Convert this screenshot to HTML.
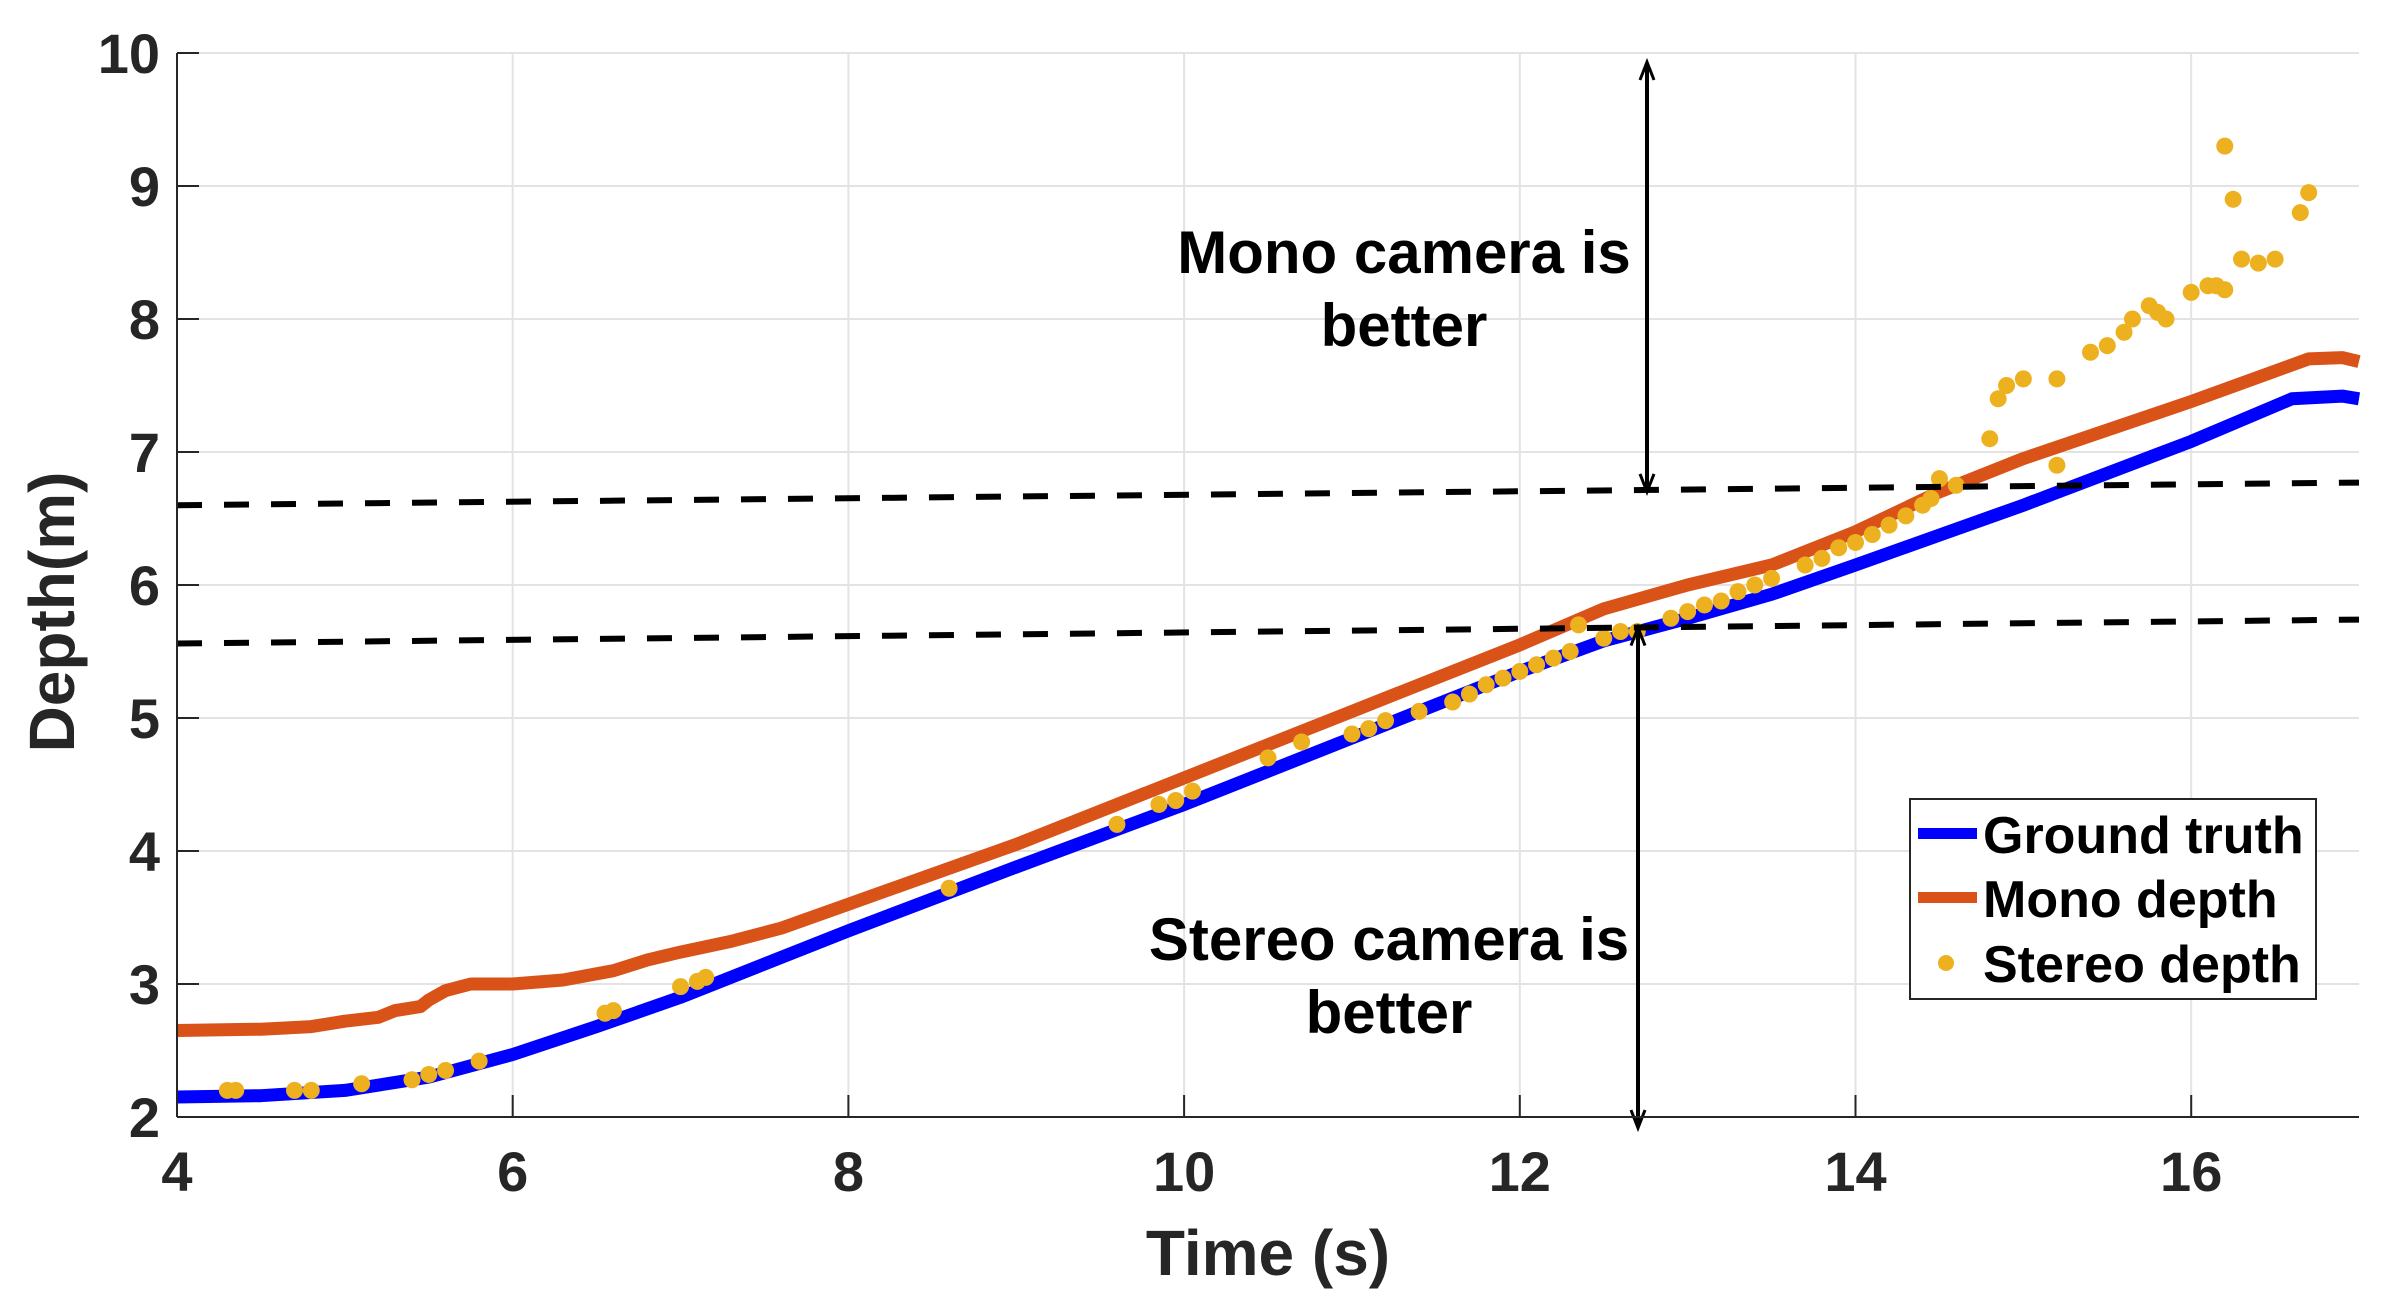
<!DOCTYPE html>
<html><head><meta charset="utf-8"><style>
html,body{margin:0;padding:0;background:#fff;}
svg{display:block;}
text{font-family:"Liberation Sans",sans-serif;font-weight:bold;}
</style></head><body>
<svg id="s" width="2402" height="1311" xmlns="http://www.w3.org/2000/svg">
<g id="grid" stroke="#e3e3e3" stroke-width="2"></g>
<g id="data"></g>
<line x1="177" y1="53" x2="177" y2="1117" stroke="#262626" stroke-width="2"/>
<line x1="177" y1="1117" x2="2359" y2="1117" stroke="#262626" stroke-width="2"/>
<g id="ticks" stroke="#262626" stroke-width="2"></g>
<g font-size="56" fill="#262626" text-anchor="end" id="ylab"></g>
<g font-size="56" fill="#262626" text-anchor="middle" id="xlab"></g>
<text x="1268" y="1275" font-size="64" fill="#262626" text-anchor="middle">Time (s)</text>
<text transform="translate(74,612) rotate(-90)" font-size="64" fill="#262626" text-anchor="middle">Depth(m)</text>
<text x="1404" y="273" font-size="60" fill="#000" text-anchor="middle">Mono camera is</text>
<text x="1404" y="346" font-size="60" fill="#000" text-anchor="middle">better</text>
<text x="1389" y="960" font-size="60" fill="#000" text-anchor="middle">Stereo camera is</text>
<text x="1389" y="1033" font-size="60" fill="#000" text-anchor="middle">better</text>
<rect x="1910" y="799" width="406" height="200" fill="#fff" stroke="#262626" stroke-width="2"/>
<rect x="1918" y="828" width="59" height="11" fill="#0000ff"/>
<rect x="1918" y="892" width="59" height="11" fill="#D95319"/>
<circle cx="1946" cy="963" r="8" fill="#EDB120"/>
<text x="1983" y="853" font-size="52" fill="#000">Ground truth</text>
<text x="1983" y="917" font-size="52" fill="#000">Mono depth</text>
<text x="1983" y="982" font-size="52" fill="#000">Stereo depth</text>
</svg>
<script>
var NS="http://www.w3.org/2000/svg";
function X(t){return 177+(t-4)*167.85;}
function Y(v){return 1117-(v-2)*133;}
function el(p,n,a){var e=document.createElementNS(NS,n);for(var k in a)e.setAttribute(k,a[k]);document.getElementById(p).appendChild(e);return e;}
for(var t=4;t<=16;t+=2){el('grid','line',{x1:X(t),y1:53,x2:X(t),y2:1117});el('ticks','line',{x1:X(t),y1:1117,x2:X(t),y2:1095});
 var tx=el('xlab','text',{x:X(t),y:1191});tx.textContent=t;}
for(var v=2;v<=10;v++){el('grid','line',{x1:177,y1:Y(v),x2:2359,y2:Y(v)});el('ticks','line',{x1:177,y1:Y(v),x2:199,y2:Y(v)});
 var ty=el('ylab','text',{x:160,y:Y(v)+20});ty.textContent=v;}
function path(pts){return pts.map(function(p,i){return (i?'L':'M')+X(p[0]).toFixed(1)+' '+Y(p[1]).toFixed(1);}).join(' ');}
var gt=[[4,2.15],[4.5,2.16],[5,2.2],[5.5,2.3],[6,2.47],[6.5,2.68],[7,2.9],[8,3.4],[9,3.88],[10,4.35],[11,4.85],[12,5.35],[12.5,5.58],[13,5.75],[13.5,5.93],[14,6.15],[15,6.6],[16,7.08],[16.6,7.4],[16.9,7.42],[17,7.4]];
var mono=[[4,2.65],[4.5,2.66],[4.8,2.68],[5,2.72],[5.2,2.75],[5.3,2.8],[5.45,2.83],[5.5,2.88],[5.6,2.95],[5.75,3.0],[6,3.0],[6.3,3.03],[6.6,3.1],[6.8,3.18],[7,3.24],[7.3,3.32],[7.6,3.42],[8,3.6],[9,4.05],[10,4.55],[11,5.05],[12,5.55],[12.5,5.82],[13,6.0],[13.5,6.15],[14,6.4],[14.5,6.7],[15,6.95],[16,7.38],[16.7,7.7],[16.9,7.71],[17,7.68]];
el('data','path',{d:path(gt),fill:'none',stroke:'#0000ff','stroke-width':13,'stroke-linejoin':'round'});
el('data','path',{d:path(mono),fill:'none',stroke:'#D95319','stroke-width':13,'stroke-linejoin':'round'});
var st=[[4.3,2.2],[4.35,2.2],[4.7,2.2],[4.8,2.2],[5.1,2.25],[5.4,2.28],[5.5,2.32],[5.6,2.35],[5.8,2.42],[6.55,2.78],[6.6,2.8],[7.0,2.98],[7.1,3.02],[7.15,3.05],[8.6,3.72],[9.6,4.2],[9.85,4.35],[9.95,4.38],[10.05,4.45],[10.5,4.7],[10.7,4.82],[11.0,4.88],[11.1,4.92],[11.2,4.98],[11.4,5.05],[11.6,5.12],[11.7,5.18],[11.8,5.25],[11.9,5.3],[12.0,5.35],[12.1,5.4],[12.2,5.45],[12.3,5.5],[12.35,5.7],[12.5,5.6],[12.6,5.65],[12.7,5.65],[12.9,5.75],[13.0,5.8],[13.1,5.85],[13.2,5.88],[13.3,5.95],[13.4,6.0],[13.5,6.05],[13.7,6.15],[13.8,6.2],[13.9,6.28],[14.0,6.32],[14.1,6.38],[14.2,6.45],[14.3,6.52],[14.4,6.6],[14.45,6.65],[14.5,6.8],[14.6,6.75],[14.8,7.1],[14.85,7.4],[14.9,7.5],[15.0,7.55],[15.2,7.55],[15.2,6.9],[15.4,7.75],[15.5,7.8],[15.6,7.9],[15.65,8.0],[15.75,8.1],[15.8,8.05],[15.85,8.0],[16.0,8.2],[16.1,8.25],[16.15,8.25],[16.2,8.22],[16.2,9.3],[16.25,8.9],[16.3,8.45],[16.4,8.42],[16.5,8.45],[16.65,8.8],[16.7,8.95]];
st.forEach(function(p){el('data','circle',{cx:X(p[0]),cy:Y(p[1]),r:8.5,fill:'#EDB120'});});
el('data','line',{x1:177,y1:Y(6.6),x2:2359,y2:Y(6.77),stroke:'#000','stroke-width':6,'stroke-dasharray':'25 22'});
el('data','line',{x1:177,y1:Y(5.56),x2:2359,y2:Y(5.74),stroke:'#000','stroke-width':6,'stroke-dasharray':'25 22'});
function arrow(x,y1,y2){
 el('data','line',{x1:x,y1:y1+4,x2:x,y2:y2-4,stroke:'#000','stroke-width':4});
 el('data','path',{d:'M'+(x-7)+' '+(y1+18)+' L'+x+' '+y1+' L'+(x+7)+' '+(y1+18),fill:'none',stroke:'#000','stroke-width':3});
 el('data','path',{d:'M'+(x-7)+' '+(y2-18)+' L'+x+' '+y2+' L'+(x+7)+' '+(y2-18),fill:'none',stroke:'#000','stroke-width':3});
}
arrow(1647,62,Y(6.7));
arrow(1638,Y(5.68),1128);
</script>
</body></html>
